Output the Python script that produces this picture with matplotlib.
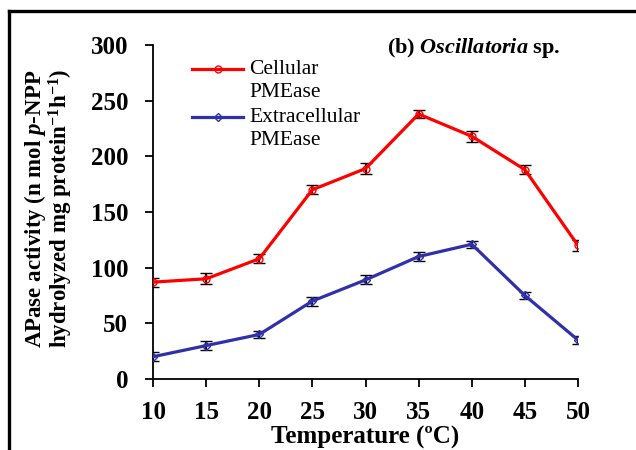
import matplotlib
matplotlib.use("Agg")
import matplotlib.pyplot as plt
from matplotlib.lines import Line2D

# Temperature response of APase activity - Oscillatoria sp.
temperature = [10, 15, 20, 25, 30, 35, 40, 45, 50]
cellular = [87, 90, 108, 170, 189, 238, 218, 188, 120]
cellular_err = [4, 5, 4, 4, 5, 4, 5, 4, 5]
extracellular = [20, 30, 40, 70, 89, 110, 121, 75, 35]
extracellular_err = [4, 4, 3, 4, 4, 4, 3, 3, 4]
yticks = [0, 50, 100, 150, 200, 250, 300]

RED = '#ff0000'
BLUE = '#3030a8'

plt.rcParams['font.family'] = 'Liberation Serif'
plt.rcParams['mathtext.fontset'] = 'custom'
plt.rcParams['mathtext.rm'] = 'Liberation Serif:bold'
plt.rcParams['mathtext.it'] = 'Liberation Serif:italic:bold'
plt.rcParams['mathtext.bf'] = 'Liberation Serif:bold'

fig = plt.figure(figsize=(6.36, 4.5), dpi=100)
ax = fig.add_axes([0.2406, 0.1578, 0.6682, 0.7422])

ax.errorbar(temperature, cellular, yerr=cellular_err, color=RED, lw=2.3,
            marker='o', ms=5, mfc='none', mec=RED, mew=1,
            ecolor='black', elinewidth=1.6, capsize=4, capthick=1.6, zorder=3)
ax.errorbar(temperature, extracellular, yerr=extracellular_err, color=BLUE, lw=2.3,
            marker='D', ms=4.5, mfc='none', mec=BLUE, mew=1,
            ecolor='black', elinewidth=1.6, capsize=4, capthick=1.6, zorder=3)

ax.set_xlim(10, 50)
ax.set_ylim(0, 300)
ax.set_xticks(temperature)
ax.set_yticks(yticks)
ax.spines['top'].set_visible(False)
ax.spines['right'].set_visible(False)
for s in ['left', 'bottom']:
    ax.spines[s].set_linewidth(1.3)
ax.tick_params(axis='both', direction='out', length=6, width=1.3, labelsize=18)
ax.tick_params(axis='y', pad=12)
ax.tick_params(axis='x', pad=10)
for lab in ax.get_xticklabels() + ax.get_yticklabels():
    lab.set_fontweight('bold')

ax.set_xlabel('Temperature (ºC)', fontsize=18, fontweight='bold', labelpad=1)
ax.set_ylabel('APase activity (n mol $\\it{p}$-NPP\nhydrolyzed mg protein$^{-1}$h$^{-1}$)',
              fontsize=16.5, fontweight='bold', linespacing=0.95)
ax.yaxis.label.set_va('center')
ax.yaxis.set_label_coords(-0.245, 0.51)

# legend drawn by hand so the handle sits on the first text line
leg_rows = [(0.928, RED, 'o', 'Cellular', 'PMEase'),
            (0.784, BLUE, 'D', 'Extracellular', 'PMEase')]
for yy, col, mk, l1, l2 in leg_rows:
    ax.add_line(Line2D([0.092, 0.212], [yy, yy], transform=ax.transAxes, color=col,
                       lw=2.3, clip_on=False))
    ax.add_line(Line2D([0.152], [yy], transform=ax.transAxes, color=col, marker=mk,
                       ms=4.5 if mk == 'D' else 5, mfc='none', mec=col, mew=1, clip_on=False))
    ax.text(0.226, yy, l1, transform=ax.transAxes, ha='left', va='center', fontsize=15.5)
    ax.text(0.226, yy - 0.069, l2, transform=ax.transAxes, ha='left', va='center', fontsize=15.5)

ax.text(0.958, 0.992, '(b) $\\it{Oscillatoria}$ sp.', transform=ax.transAxes,
        ha='right', va='center', fontsize=16, fontweight='bold')

# figure frame (left and top edges visible)
fx = 9 / 636
fy = 1 - 11 / 450
fig.add_artist(Line2D([fx, fx], [0, fy], transform=fig.transFigure, color='black', lw=2.4))
fig.add_artist(Line2D([fx, 1], [fy, fy], transform=fig.transFigure, color='black', lw=2.4))

fig.savefig('out.png', dpi=100)
